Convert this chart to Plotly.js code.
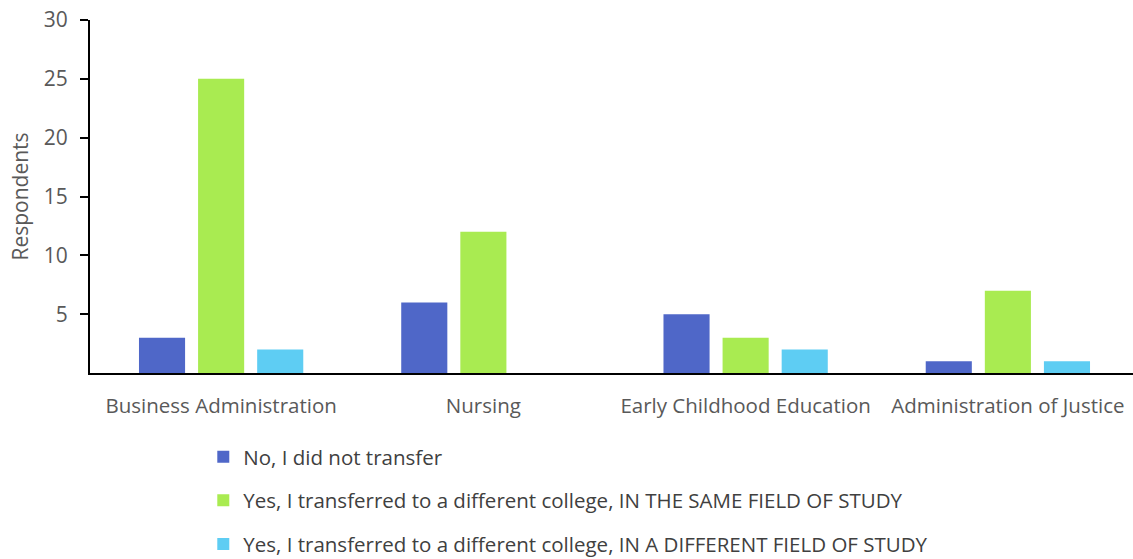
<!DOCTYPE html>
<html>
<head>
<meta charset="utf-8">
<script src="https://cdn.plot.ly/plotly-3.0.1.min.js"></script>
<style>html,body{margin:0;padding:0;background:#fff;overflow:hidden;}#chart{width:1139px;height:590px;}</style>
</head>
<body>
<div id="chart"></div>
<script>
const categories = ["Business Administration", "Nursing", "Early Childhood Education", "Administration of Justice"];
const seriesNames = [
  "No, I did not transfer",
  "Yes, I transferred to a different college, IN THE SAME FIELD OF STUDY",
  "Yes, I transferred to a different college, IN A DIFFERENT FIELD OF STUDY"
];
const noTransfer = [3, 6, 5, 1];
const sameField = [25, 12, 3, 7];
const differentField = [2, 0, 2, 1];
const yTickVals = [5, 10, 15, 20, 25, 30];

const colors = ["#4F67C8", "#A9EB51", "#5ECDF3"];
const values = [noTransfer, sameField, differentField];

const traces = values.map((v, i) => ({
  type: "bar",
  name: seriesNames[i],
  x: categories,
  y: v,
  legendgroup: "g" + i,
  marker: { color: colors[i], line: { width: 0 } },
  hoverinfo: "x+y+name"
}));

const font = "'Open Sans', 'DejaVu Sans', sans-serif";
const layout = {
  width: 1139,
  height: 590,
  margin: { l: 90, r: 0, t: 20, b: 217 },
  paper_bgcolor: "#ffffff",
  plot_bgcolor: "#ffffff",
  barmode: "group",
  bargap: 0.324,
  bargroupgap: 0.22,
  font: { family: font, size: 20, color: "#595959" },
  showlegend: true,
  legend: {
    orientation: "v",
    x: 0.108, xanchor: "left",
    y: -0.181, yanchor: "top",
    traceorder: "grouped",
    tracegroupgap: 14,
    itemwidth: 30,
    font: { family: font, size: 20.5, color: "#404040" },
    bgcolor: "rgba(0,0,0,0)"
  },
  xaxis: {
    type: "category",
    showline: true,
    linecolor: "#000000",
    linewidth: 2,
    ticks: "",
    ticklabelstandoff: 13,
    showgrid: false,
    tickfont: { family: font, size: 20.5, color: "#595959" },
    automargin: false
  },
  yaxis: {
    range: [0, 30],
    tickvals: yTickVals,
    ticktext: yTickVals.map(String),
    ticks: "outside",
    ticklen: 8,
    tickwidth: 2,
    tickcolor: "#000000",
    showline: true,
    linecolor: "#000000",
    linewidth: 2,
    showgrid: false,
    zeroline: false,
    ticklabelstandoff: 8,
    tickfont: { family: font, size: 21, color: "#595959" },
    title: { text: "Respondents", font: { family: font, size: 21, color: "#595959" }, standoff: 9 },
    automargin: false
  }
};

Plotly.newPlot("chart", traces, layout, { displayModeBar: false });
</script>
</body>
</html>
